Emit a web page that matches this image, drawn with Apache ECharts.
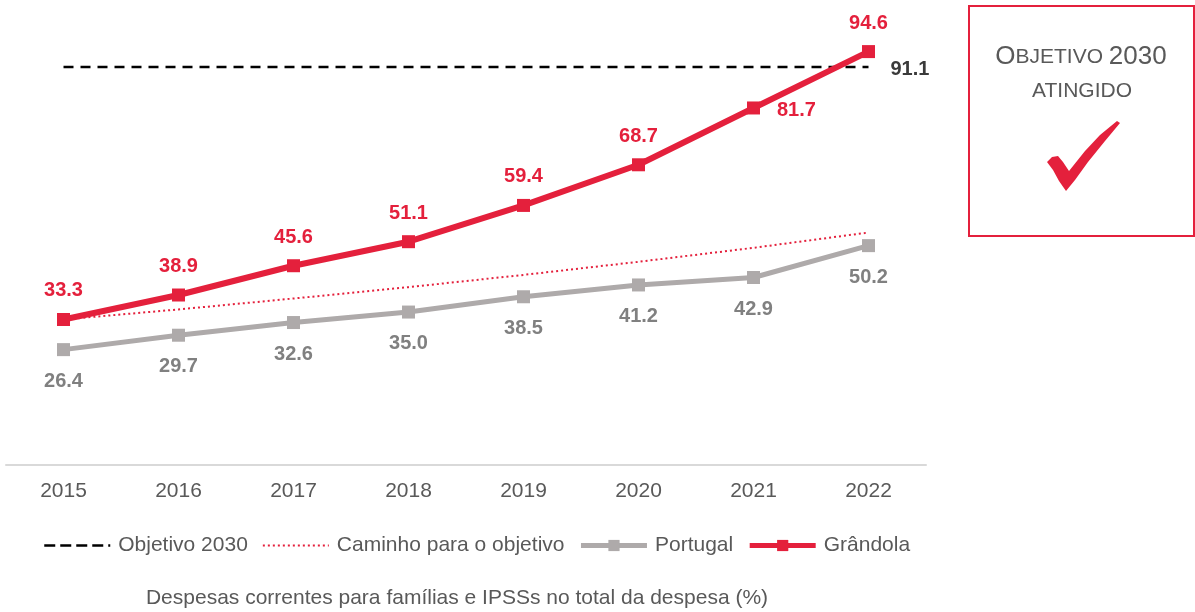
<!DOCTYPE html>
<html>
<head>
<meta charset="utf-8">
<script src="https://cdn.jsdelivr.net/npm/echarts@6/dist/echarts.min.js"></script>
<style>
  html, body { margin: 0; padding: 0; background: #fff; }
  #main { width: 1195px; height: 612px; }
</style>
</head>
<body>
<div id="main"></div>
<script>
const years = ['2015', '2016', '2017', '2018', '2019', '2020', '2021', '2022'];
const grandola = [33.3, 38.9, 45.6, 51.1, 59.4, 68.7, 81.7, 94.6];
const portugal = [26.4, 29.7, 32.6, 35.0, 38.5, 41.2, 42.9, 50.2];
const caminho = [33.3, 35.6, 38.1, 40.7, 43.5, 46.5, 49.7, 53.2];
const objetivo = [91.1, 91.1, 91.1, 91.1, 91.1, 91.1, 91.1, 91.1];

const RED = '#E4203C';
const GREY = '#AEAAAA';
const TXT = '#595959';

const font = 'Liberation Sans, Arial, sans-serif';
const oneDec = (p) => Number(p.value).toFixed(1);

const chart = echarts.init(document.getElementById('main'));

const option = {
    animation: false,
    textStyle: { fontFamily: font },
    grid: { left: 6, right: 269, top: 28, bottom: 147 },
    xAxis: {
        type: 'category',
        data: years,
        boundaryGap: true,
        axisLine: { lineStyle: { color: '#D9D9D9', width: 2 } },
        axisTick: { show: false },
        axisLabel: { color: TXT, fontSize: 21, margin: 16, fontFamily: font }
    },
    yAxis: {
        type: 'value',
        min: 0,
        max: 100,
        show: false,
        splitLine: { show: false }
    },
    legend: {
        left: 38,
        top: 530,
        itemWidth: 66,
        itemHeight: 14,
        itemGap: 14,
        textStyle: { color: TXT, fontSize: 21, fontFamily: font, padding: [0, 0, 0, 3] },
        data: [
            { name: 'Objetivo 2030', itemStyle: { opacity: 0 }, lineStyle: { width: 2.5, type: [11, 5] } },
            { name: 'Caminho para o objetivo', itemStyle: { opacity: 0 }, lineStyle: { width: 2, type: [2, 3] } },
            { name: 'Portugal', lineStyle: { width: 5 } },
            { name: 'Grândola', lineStyle: { width: 5 } }
        ]
    },
    series: [
        {
            name: 'Objetivo 2030',
            type: 'line',
            symbol: 'none',
            data: objetivo,
            lineStyle: { color: '#000', width: 2.5, type: [10, 7] },
            itemStyle: { color: '#000' },
            endLabel: {
                show: true, distance: 22, offset: [0, 3], formatter: oneDec,
                color: '#3a3a3a', fontWeight: 'bold', fontSize: 20, fontFamily: font
            },
            z: 1
        },
        {
            name: 'Caminho para o objetivo',
            type: 'line',
            symbol: 'none',
            data: caminho,
            lineStyle: { color: RED, width: 2, type: [2, 3] },
            itemStyle: { color: RED },
            z: 2
        },
        {
            name: 'Portugal',
            type: 'line',
            symbol: 'rect',
            symbolSize: 13,
            data: portugal,
            lineStyle: { color: GREY, width: 5 },
            itemStyle: { color: GREY },
            label: {
                show: true, position: 'bottom', distance: 15, formatter: oneDec,
                color: '#808080', fontWeight: 'bold', fontSize: 20, fontFamily: font
            },
            z: 3
        },
        {
            name: 'Grândola',
            type: 'line',
            symbol: 'rect',
            symbolSize: 13,
            data: grandola.map((v, i) => i === 6
                ? { value: v, label: { position: 'right', distance: 17, offset: [0, 3] } }
                : v),
            lineStyle: { color: RED, width: 6 },
            itemStyle: { color: RED },
            label: {
                show: true, position: 'top', distance: 12, formatter: oneDec,
                color: RED, fontWeight: 'bold', fontSize: 20, fontFamily: font
            },
            z: 4
        }
    ],
    graphic: [
        {
            type: 'text',
            x: 457,
            y: 598,
            style: {
                text: 'Despesas correntes para famílias e IPSSs no total da despesa (%)',
                fill: TXT,
                font: '21px ' + font,
                align: 'center',
                verticalAlign: 'middle'
            }
        },
        {
            type: 'rect',
            shape: { x: 969, y: 6, width: 225, height: 230 },
            style: { fill: '#fff', stroke: RED, lineWidth: 2 }
        },
        {
            type: 'text',
            x: 1081,
            y: 57,
            style: {
                text: '{b|O}{s|BJETIVO }{b|2030}',
                align: 'center',
                verticalAlign: 'middle',
                rich: {
                    b: { fontSize: 26, fill: TXT, fontFamily: font },
                    s: { fontSize: 21, fill: TXT, fontFamily: font }
                }
            }
        },
        {
            type: 'text',
            x: 1082,
            y: 91,
            style: {
                text: 'ATINGIDO',
                align: 'center',
                verticalAlign: 'middle',
                fill: TXT,
                font: '21px ' + font
            }
        },
        {
            type: 'polygon',
            shape: {
                points: [
                    [1047, 162], [1052, 157], [1058, 156], [1063, 162], [1069, 171],
                    [1085, 151], [1100, 135], [1117, 121], [1120, 123], [1105, 141],
                    [1088, 162], [1075, 180], [1066, 191], [1059, 181], [1053, 170]
                ]
            },
            style: { fill: RED }
        }
    ]
};

chart.setOption(option);
</script>
</body>
</html>
